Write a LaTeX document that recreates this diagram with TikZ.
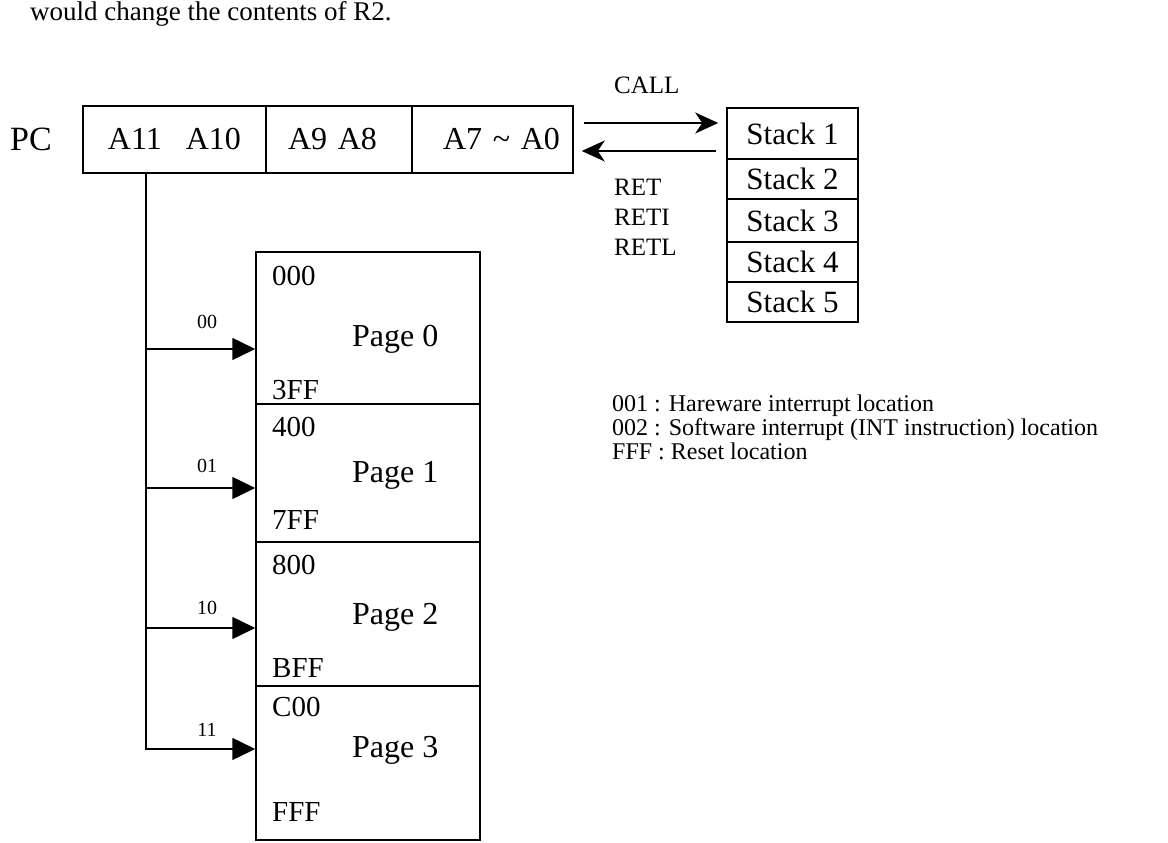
\documentclass[tikz,border=0pt]{standalone}
\usepackage{fontspec}
\setmainfont{Liberation Serif}
\usetikzlibrary{arrows.meta}

\begin{document}
\begin{tikzpicture}[
    x=1pt, y=-1pt,
    cell/.style={
        draw,
        line width=1.5pt,
        minimum height=67,
        inner ysep=0pt,
        font=\fontsize{32}{36}\selectfont
    },
    stackcell/.style={
        draw,
        line width=1.5pt,
        minimum width=131,
        inner sep=0pt,
        font=\fontsize{31}{34}\selectfont
    },
    page/.style={
        draw,
        line width=1.5pt,
        minimum width=224,
        inner sep=0pt
    },
    addr/.style={anchor=west, inner sep=0pt, font=\fontsize{29}{32}\selectfont},
    pagename/.style={anchor=west, inner sep=0pt, font=\fontsize{32}{36}\selectfont},
    bits/.style={inner sep=0pt, font=\fontsize{20}{22}\selectfont},
    op/.style={anchor=west, inner sep=0pt, font=\fontsize{25}{28}\selectfont},
    legend/.style={anchor=base west, inner sep=0pt, font=\fontsize{24}{27}\selectfont},
    callarr/.style={
        -{Stealth[length=23pt,width=21pt,inset=7pt]},
        line width=1.3pt
    },
    branch/.style={
        -{Triangle[length=23pt,width=22pt]},
        line width=1.5pt
    }
]
    \useasboundingbox (0,0) rectangle (1168,843);

    \node[anchor=base west, inner sep=0pt, font=\fontsize{27}{30}\selectfont]
        (note) at (30,21) {would change the contents of R2.};

    % program counter
    \node[anchor=west, inner sep=0pt, font=\fontsize{34}{38}\selectfont]
        (pc) at (10,139.5) {PC};
    \node[cell, minimum width=183, inner xsep=0pt]
        (hi) at (174.5,139.5) {A11\hspace{24pt}A10};
    \node[cell, minimum width=146, inner xsep=22, text width=102, align=left]
        (mid) at (339,139.5) {A9 A8};
    \node[cell, minimum width=161, inner xsep=13, text width=135, align=right]
        (lo) at (492.5,139.5) {A7 \textasciitilde{} A0};

    % stack
    \node[stackcell, minimum height=51] (stack1) at (792.5,133.5) {Stack 1};
    \node[stackcell, minimum height=40] (stack2) at (792.5,179) {Stack 2};
    \node[stackcell, minimum height=43] (stack3) at (792.5,220.5) {Stack 3};
    \node[stackcell, minimum height=40] (stack4) at (792.5,262) {Stack 4};
    \node[stackcell, minimum height=40] (stack5) at (792.5,302) {Stack 5};

    \coordinate (callout) at (584,123);
    \coordinate (retin) at (716,151);

    \draw[callarr, shorten >=8pt] (callout) -- (callout -| stack1.west);
    \draw[callarr, shorten >=8pt] (retin) -- (retin -| lo.east);

    \node[op] (call) at (614,85) {CALL};
    \node[op] (ret) at (614,187) {RET};
    \node[op] (reti) at (614,217) {RETI};
    \node[op] (retl) at (614,247) {RETL};

    % program memory pages
    \node[page, minimum height=152] (page0) at (368,328) {};
    \node[page, minimum height=138] (page1) at (368,473) {};
    \node[page, minimum height=144] (page2) at (368,614) {};
    \node[page, minimum height=154] (page3) at (368,763) {};

    \node[addr] (a000) at (272,276) {000};
    \node[addr] (a3ff) at (272,390) {3FF};
    \node[addr] (a400) at (272,427) {400};
    \node[addr] (a7ff) at (272,520) {7FF};
    \node[addr] (a800) at (272,565) {800};
    \node[addr] (abff) at (272,668) {BFF};
    \node[addr] (ac00) at (272,707) {C00};
    \node[addr] (afff) at (272,812) {FFF};

    \node[pagename] (p0) at (352,339) {Page 0};
    \node[pagename] (p1) at (352,475) {Page 1};
    \node[pagename] (p2) at (352,617) {Page 2};
    \node[pagename] (p3) at (352,750) {Page 3};

    % taps on the page select line
    \coordinate (tap0) at (146,349);
    \coordinate (tap1) at (146,488);
    \coordinate (tap2) at (146,628);
    \coordinate (tap3) at (146,749);

    \draw[branch] (tap3 |- hi.south) |- (page3.west |- tap3);
    \draw[branch] (tap0) -- (tap0 -| page0.west);
    \draw[branch] (tap1) -- (tap1 -| page1.west);
    \draw[branch] (tap2) -- (tap2 -| page2.west);

    \node[bits] (b00) at (207,322) {00};
    \node[bits] (b01) at (207,466) {01};
    \node[bits] (b10) at (207,608) {10};
    \node[bits] (b11) at (207,730) {11};

    \node[legend] (hwint) at (612,411) {001 : Hareware interrupt location};
    \node[legend] (swint) at (612,435) {002 : Software interrupt (INT instruction) location};
    \node[legend] (reset) at (612,459) {FFF : Reset location};
\end{tikzpicture}
\end{document}
